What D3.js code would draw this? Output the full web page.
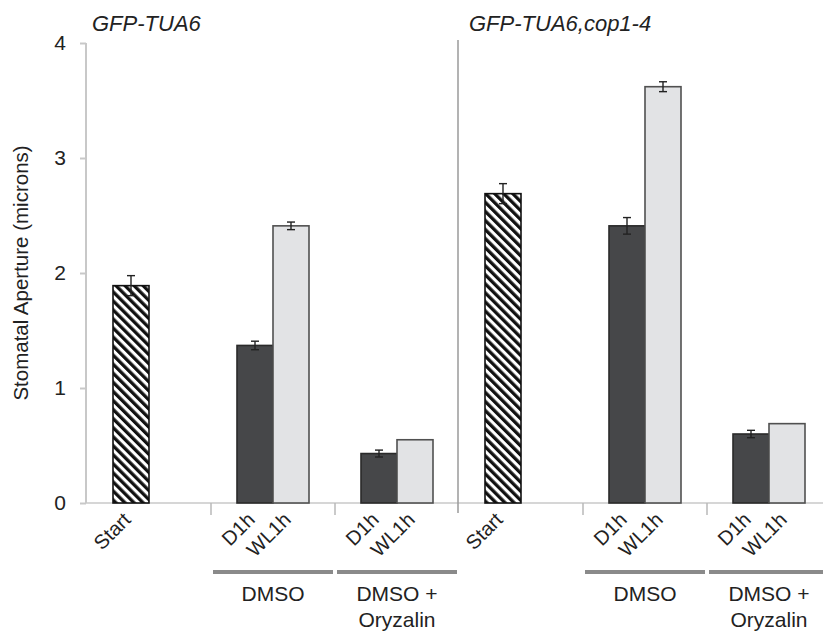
<!DOCTYPE html>
<html>
<head>
<meta charset="utf-8">
<script src="https://cdn.jsdelivr.net/npm/d3@7"></script>
<style>
  html, body { margin: 0; padding: 0; background: #fff; }
  svg { display: block; }
  text { font-family: "Liberation Sans", Arial, Helvetica, sans-serif; fill: #222; }
</style>
</head>
<body>
<script>
// ---------- data ----------
const genotypes = ["GFP-TUA6", "GFP-TUA6,cop1-4"];
const treatments = ["Start", "DMSO", "DMSO + Oryzalin"];
const treatmentLabels = [[], ["DMSO"], ["DMSO +", "Oryzalin"]];
const seriesNames = ["D1h", "WL1h"];
const startMean = [1.89, 2.69];
const startErr = [0.087, 0.087];
// order: [GFP-TUA6 DMSO, GFP-TUA6 Oryzalin, cop1-4 DMSO, cop1-4 Oryzalin]
const d1hMean = [1.37, 0.43, 2.41, 0.60];
const d1hErr = [0.037, 0.030, 0.072, 0.032];
const wl1hMean = [2.41, 0.55, 3.62, 0.69];
const wl1hErr = [0.033, 0, 0.043, 0];
const yTicks = [0, 1, 2, 3, 4];
const yLabel = "Stomatal Aperture (microns)";

// ---------- layout ----------
const W = 823, H = 631;
const svg = d3.select("body").append("svg").attr("width", W).attr("height", H);
svg.append("rect").attr("width", W).attr("height", H).attr("fill", "#fff");

const defs = svg.append("defs");
const pat = defs.append("pattern").attr("id", "hatch")
  .attr("patternUnits", "userSpaceOnUse").attr("width", 6.4).attr("height", 6.4)
  .attr("patternTransform", "rotate(-45)");
pat.append("rect").attr("width", 6.4).attr("height", 6.4).attr("fill", "#fff");
pat.append("rect").attr("width", 3.3).attr("height", 6.4).attr("fill", "#111");

const cats = [];
genotypes.forEach(g => treatments.forEach(t => cats.push(g + "|" + t)));

const x = d3.scaleBand().domain(cats).range([87, 87 + 124 * 6]).padding(0);
const y = d3.scaleLinear().domain([0, 4]).range([503, 43]);
const inner = d3.scaleBand().domain(seriesNames).range([-36, 36]).padding(0);

// bar records
const bars = [];
genotypes.forEach((g, gi) => {
  bars.push({cat: g + "|Start", s: "D1h", v: startMean[gi], e: startErr[gi], type: "start", label: "Start"});
  [1, 2].forEach((ti, k) => {
    const idx = gi * 2 + k;
    bars.push({cat: g + "|" + treatments[ti], s: "D1h", v: d1hMean[idx], e: d1hErr[idx], type: "d1h", label: "D1h"});
    bars.push({cat: g + "|" + treatments[ti], s: "WL1h", v: wl1hMean[idx], e: wl1hErr[idx], type: "wl1h", label: "WL1h"});
  });
});
const bx = d => x(d.cat) + x.bandwidth() / 2 + inner(d.s);
const bw = inner.bandwidth();

// ---------- axes ----------
const yAxis = svg.append("g").attr("transform", "translate(86,0)")
  .call(d3.axisLeft(y).tickValues(yTicks).tickSize(6).tickPadding(14).tickFormat(d3.format("d")));
yAxis.select(".domain").attr("stroke", "#c8c8c8").attr("stroke-width", 2).attr("d", `M0,${y(4)}V${y(0)}`);
yAxis.selectAll(".tick line").attr("stroke", "#c8c8c8").attr("stroke-width", 2);
yAxis.selectAll(".tick text").attr("font-size", 21).attr("fill", "#333")
  .attr("font-family", "'Liberation Sans', Arial, sans-serif");

svg.append("line").attr("x1", 86).attr("x2", W).attr("y1", y(0)).attr("y2", y(0))
  .attr("stroke", "#c8c8c8").attr("stroke-width", 1.5);
const bounds = cats.slice(1).map(c => x(c));
svg.selectAll(".xtick").data(bounds.filter((b, i) => i !== 2)).enter().append("line")
  .attr("x1", d => d).attr("x2", d => d).attr("y1", y(0)).attr("y2", y(0) + 12)
  .attr("stroke", "#b8b8b8").attr("stroke-width", 1.5);
svg.append("line").attr("x1", x(cats[3]) - 1).attr("x2", x(cats[3]) - 1)
  .attr("y1", 40).attr("y2", 513).attr("stroke", "#9a9a9a").attr("stroke-width", 1.5);

// ---------- bars ----------
const fillOf = t => t === "start" ? "url(#hatch)" : (t === "d1h" ? "#464749" : "#e2e3e5");
const strokeOf = t => t === "start" ? "#111" : (t === "d1h" ? "#2a2a2a" : "#505050");
svg.selectAll(".bar").data(bars).enter().append("rect")
  .attr("x", d => bx(d)).attr("width", bw)
  .attr("y", d => y(d.v)).attr("height", d => y(0) - y(d.v))
  .attr("fill", d => fillOf(d.type)).attr("stroke", d => strokeOf(d.type)).attr("stroke-width", 1.6);

const eb = svg.selectAll(".err").data(bars.filter(d => d.e > 0)).enter().append("g")
  .attr("stroke", "#222").attr("stroke-width", 1.4);
eb.append("line").attr("x1", d => bx(d) + bw / 2).attr("x2", d => bx(d) + bw / 2)
  .attr("y1", d => y(d.v + d.e)).attr("y2", d => y(d.v - d.e));
eb.append("line").attr("x1", d => bx(d) + bw / 2 - 4).attr("x2", d => bx(d) + bw / 2 + 4)
  .attr("y1", d => y(d.v + d.e)).attr("y2", d => y(d.v + d.e));
eb.append("line").attr("x1", d => bx(d) + bw / 2 - 4).attr("x2", d => bx(d) + bw / 2 + 4)
  .attr("y1", d => y(d.v - d.e)).attr("y2", d => y(d.v - d.e));

// ---------- x labels ----------
svg.selectAll(".xlab").data(bars).enter().append("text")
  .attr("transform", d => `translate(${bx(d) + bw / 2 + 1},${y(0) + 18}) rotate(-45)`)
  .attr("text-anchor", "end").attr("font-size", 20)
  .text(d => d.label);

const groupCats = cats.filter((c, i) => i % 3 !== 0);
svg.selectAll(".brk").data(groupCats).enter().append("line")
  .attr("x1", d => x(d) + x.bandwidth() / 2 - 60).attr("x2", d => x(d) + x.bandwidth() / 2 + 60)
  .attr("y1", 572).attr("y2", 572).attr("stroke", "#8a8a8a").attr("stroke-width", 4);
const gl = svg.selectAll(".glab").data(groupCats).enter().append("text")
  .attr("text-anchor", "middle").attr("font-size", 21)
  .attr("x", d => x(d) + x.bandwidth() / 2).attr("y", 601);
gl.selectAll("tspan").data(d => treatmentLabels[treatments.indexOf(d.split("|")[1])])
  .enter().append("tspan")
  .attr("x", function() { return d3.select(this.parentNode).attr("x"); })
  .attr("dy", (d, i) => i === 0 ? 0 : 26).text(d => d);

svg.selectAll(".gt").data(genotypes).enter().append("text")
  .attr("x", (d, i) => x(cats[i * 3]) + (i === 0 ? 5 : 10)).attr("y", 31)
  .attr("font-size", 22).attr("font-style", "italic").text(d => d);

svg.append("text").attr("transform", `translate(28,${(y(0) + y(4)) / 2}) rotate(-90)`)
  .attr("text-anchor", "middle").attr("font-size", 20.5).attr("fill", "#333").text(yLabel);
</script>
</body>
</html>
